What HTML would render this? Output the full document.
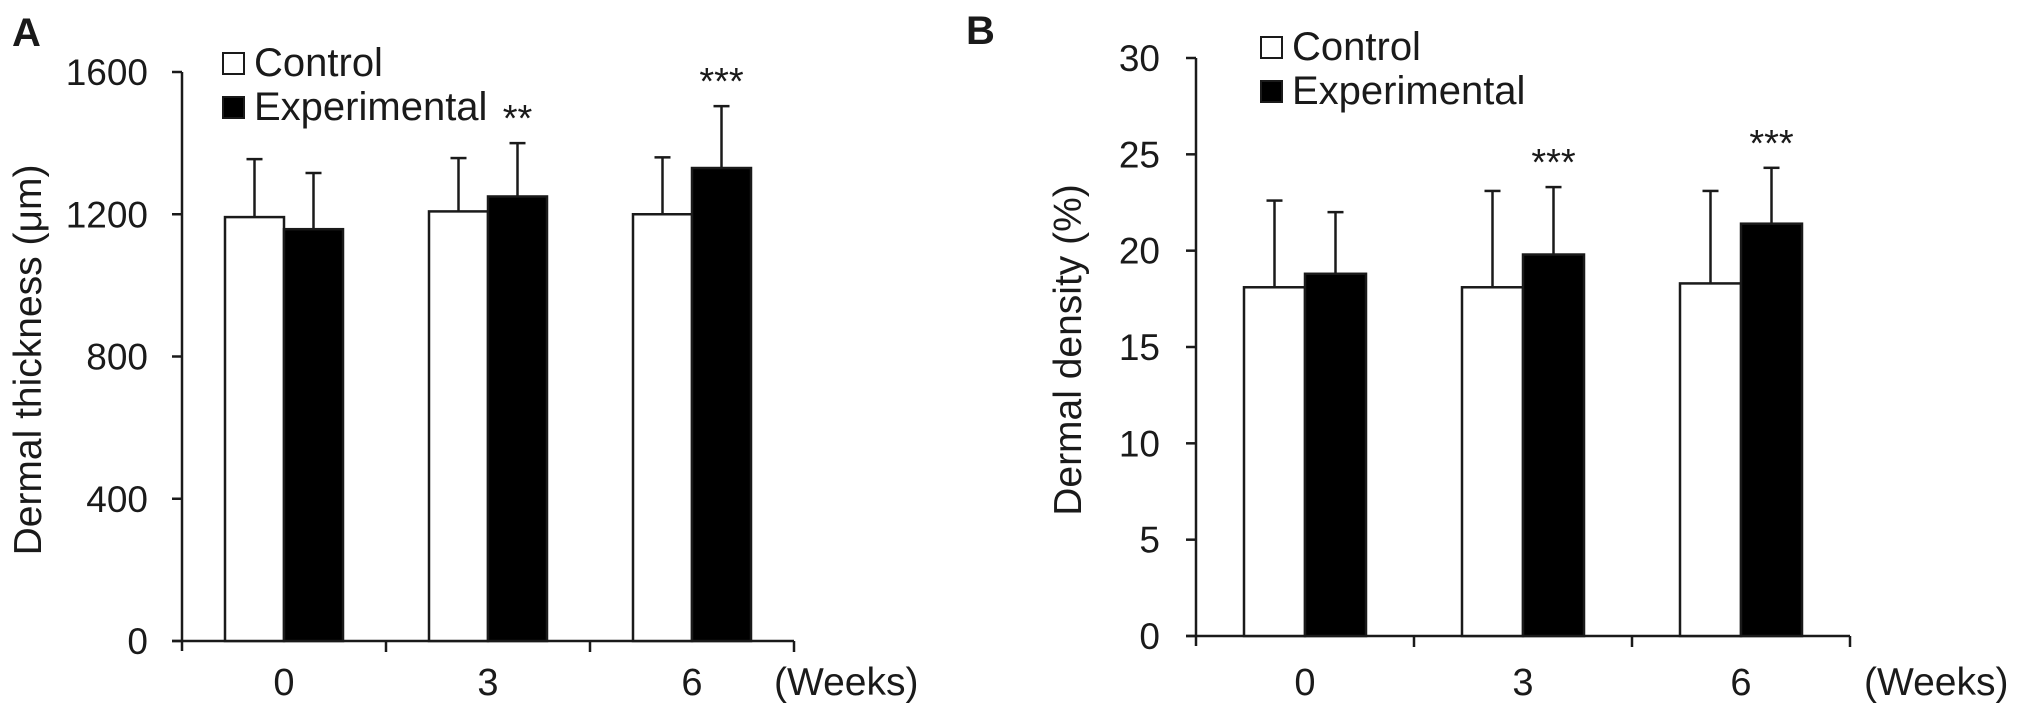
<!DOCTYPE html>
<html><head><meta charset="utf-8"><style>
html,body{margin:0;padding:0;background:#fff;}
svg{display:block;font-family:"Liberation Sans",Arial,sans-serif;}
</style></head><body>
<svg id="fig" width="2031" height="717" viewBox="0 0 2031 717" xmlns="http://www.w3.org/2000/svg">
<rect width="2031" height="717" fill="#fff"/>
</svg>
<script>
const categories = ["0","3","6"];
const thickControl = [1192, 1208, 1200];
const thickControlErr = [163, 150, 160];
const thickExp = [1158, 1250, 1330];
const thickExpErr = [158, 150, 174];
const thickStars = ["", "**", "***"];
const thickTicks = [0, 400, 800, 1200, 1600];
const densControl = [18.1, 18.1, 18.3];
const densControlErr = [4.5, 5.0, 4.8];
const densExp = [18.8, 19.8, 21.4];
const densExpErr = [3.2, 3.5, 2.9];
const densStars = ["", "***", "***"];
const densTicks = [0, 5, 10, 15, 20, 25, 30];

const NS = "http://www.w3.org/2000/svg";
const svg = document.getElementById("fig");
function mk(tag, attrs, parent) {
  const e = document.createElementNS(NS, tag);
  for (const k in attrs) e.setAttribute(k, attrs[k]);
  (parent || svg).appendChild(e);
  return e;
}
const INK = "#1a1a1a";

function panel(cfg) {
  const g = mk("g", {});
  
  
  const y = v => cfg.y0 - (v / cfg.max) * (cfg.y0 - cfg.yTop);
  const gx = i => cfg.x0 + cfg.step * (i + 0.5);
  const ya = mk("line", {x1: cfg.x0, y1: cfg.yTop, x2: cfg.x0, y2: cfg.y0 + 10, stroke: INK, "stroke-width": 2.5}, g);
  
  
  const xEnd = cfg.x0 + cfg.step * categories.length;
  const xa = mk("line", {x1: cfg.x0 - 10, y1: cfg.y0, x2: xEnd, y2: cfg.y0, stroke: INK, "stroke-width": 2.5}, g);
  
  
  cfg.ticks.forEach(t => {
    const ty = y(t);
    mk("line", {x1: cfg.x0 - 10, y1: ty, x2: cfg.x0, y2: ty, stroke: INK, "stroke-width": 2.5}, g);
    const tl = mk("text", {x: cfg.labelRight, y: ty + 13, "text-anchor": "end", "font-size": 37, fill: INK}, g);
    tl.textContent = t;
    
    
  });
  for (let i = 1; i <= categories.length; i++) {
    const tx = cfg.x0 + cfg.step * i;
    mk("line", {x1: tx, y1: cfg.y0, x2: tx, y2: cfg.y0 + 11, stroke: INK, "stroke-width": 2.5}, g);
  }
  categories.forEach((c, i) => {
    const cl = mk("text", {x: gx(i), y: 695, "text-anchor": "middle", "font-size": 38, fill: INK}, g);
    cl.textContent = c;
    
    
    [[cfg.ctrl, cfg.ctrlErr, -1, "#fff", 'bar-control'], [cfg.exp, cfg.expErr, 0, "#000", 'bar-experimental']].forEach(s => {
      const v = s[0][i], e = s[1][i];
      const bx = gx(i) + s[2] * cfg.bw;
      const top = y(v);
      const eb = mk("line", {x1: bx + cfg.bw / 2, y1: top, x2: bx + cfg.bw / 2, y2: y(v + e), stroke: INK, "stroke-width": 2.5}, g);
      
      
      mk("line", {x1: bx + cfg.bw / 2 - 8, y1: y(v + e), x2: bx + cfg.bw / 2 + 8, y2: y(v + e), stroke: INK, "stroke-width": 2.5}, g);
      const r = mk("rect", {x: bx, y: top, width: cfg.bw, height: cfg.y0 - top, fill: s[3], stroke: INK, "stroke-width": 2.5}, g);
      
      
    });
    if (cfg.stars[i]) {
      const st = mk("text", {x: gx(i) + cfg.bw / 2, y: y(cfg.exp[i] + cfg.expErr[i]) - 12, "text-anchor": "middle", "font-size": 38, fill: INK}, g);
      st.textContent = cfg.stars[i];
      
      
    }
  });
  const wk = mk("text", {x: cfg.weeksX, y: 695, "font-size": 39, fill: INK}, g);
  wk.textContent = "(Weeks)";
  
  
  const title = mk("text", {x: 0, y: 0, "text-anchor": "middle", "font-size": 39, fill: INK, transform: `translate(${cfg.titleX},${cfg.titleY}) rotate(-90)`}, g);
  title.textContent = cfg.title;
  
  
  const pl = mk("text", {x: cfg.letterX, y: cfg.letterY, "font-size": 40, "font-weight": "bold", fill: INK}, g);
  pl.textContent = cfg.letter;
  
  
  const lg = mk("g", {}, g);
  
  
  [["Control", "#fff", cfg.legY], ["Experimental", "#000", cfg.legY + 44]].forEach(L => {
    mk("rect", {x: cfg.legX, y: L[2], width: 21, height: 21, fill: L[1], stroke: INK, "stroke-width": 2}, lg);
    const lt = mk("text", {x: cfg.legX + 31, y: L[2] + 23, "font-size": 40, fill: INK}, lg);
    lt.textContent = L[0];
    
    
  });
}

panel({name: 'panel-a-thickness', x0: 182, y0: 641, yTop: 72, max: 1600, step: 204, bw: 59,
  ctrl: thickControl, ctrlErr: thickControlErr, exp: thickExp, expErr: thickExpErr, stars: thickStars,
  ticks: thickTicks, labelRight: 148, weeksX: 774, title: "Dermal thickness (μm)", titleX: 41, titleY: 360,
  letter: "A", letterX: 12, letterY: 46, legX: 223, legY: 53});
panel({name: 'panel-b-density', x0: 1196, y0: 636, yTop: 58, max: 30, step: 218, bw: 61,
  ctrl: densControl, ctrlErr: densControlErr, exp: densExp, expErr: densExpErr, stars: densStars,
  ticks: densTicks, labelRight: 1160, weeksX: 1864, title: "Dermal density (%)", titleX: 1081, titleY: 350,
  letter: "B", letterX: 966, letterY: 44, legX: 1261, legY: 37});
</script>
</body></html>
